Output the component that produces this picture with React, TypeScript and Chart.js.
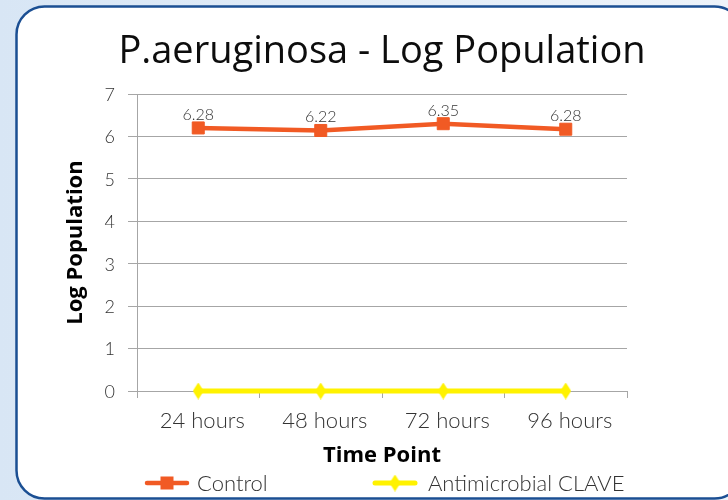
import React, { useEffect, useRef } from 'react';
import { Chart, registerables } from 'chart.js';

Chart.register(...registerables);

const chartTitle = 'P.aeruginosa - Log Population';
const xAxisTitle = 'Time Point';
const yAxisTitle = 'Log Population';
const categories = ['24 hours', '48 hours', '72 hours', '96 hours'];
const seriesNames = ['Control', 'Antimicrobial CLAVE'];
const controlValues = [6.2, 6.14, 6.3, 6.17];
const controlLabels = ['6.28', '6.22', '6.35', '6.28'];
const claveValues = [0, 0, 0, 0];
const yMin = 0;
const yMax = 7;
const yStep = 1;

const ORANGE = '#F15A24';
const YELLOW = '#FFF200';
const GRID = '#A6A6A6';
const TEXT = '#333333';

function makeDiamond(w: number, h: number, color: string) {
  const c = document.createElement('canvas');
  c.width = w;
  c.height = h;
  const ctx = c.getContext('2d')!;
  ctx.fillStyle = color;
  ctx.beginPath();
  ctx.moveTo(w / 2, 0);
  ctx.lineTo(w, h / 2);
  ctx.lineTo(w / 2, h);
  ctx.lineTo(0, h / 2);
  ctx.closePath();
  ctx.fill();
  return c;
}

export default function App() {
  const ref = useRef<HTMLCanvasElement | null>(null);

  useEffect(() => {
    document.body.style.margin = '0';
    const canvas = ref.current;
    if (!canvas) return;
    const diamond = makeDiamond(11, 17, YELLOW);

    const framePlugin = {
      id: 'frame',
      beforeDraw(chart: any) {
        const { ctx, width, height } = chart;
        ctx.save();
        const g = ctx.createLinearGradient(0, 0, width, 0);
        g.addColorStop(0, '#d8e6f5');
        g.addColorStop(1, '#edf3fa');
        ctx.fillStyle = g;
        ctx.fillRect(0, 0, width, height);
        ctx.beginPath();
        ctx.roundRect(16.5, 6.5, 726, 492, 28);
        ctx.fillStyle = '#ffffff';
        ctx.fill();
        ctx.lineWidth = 2.5;
        ctx.strokeStyle = '#1b4f93';
        ctx.stroke();
        ctx.restore();
      },
    };

    const labelsPlugin = {
      id: 'valueLabels',
      afterDatasetsDraw(chart: any) {
        const { ctx } = chart;
        const meta = chart.getDatasetMeta(0);
        ctx.save();
        ctx.font = '300 16px Lato';
        ctx.fillStyle = TEXT;
        ctx.textAlign = 'center';
        ctx.textBaseline = 'alphabetic';
        meta.data.forEach((pt: any, i: number) => {
          ctx.fillText(controlLabels[i], pt.x, pt.y - 8);
        });
        ctx.restore();
      },
    };

    const titleLegendPlugin = {
      id: 'titleLegend',
      afterDraw(chart: any) {
        const { ctx, chartArea } = chart;
        ctx.save();
        ctx.font = "400 38px 'Open Sans'";
        ctx.fillStyle = '#0d0d0d';
        ctx.textAlign = 'center';
        ctx.textBaseline = 'alphabetic';
        ctx.fillText(chartTitle, (chartArea.left + chartArea.right) / 2, 63);

        const legendX = [147, 375];
        const legendY = 483;
        chart.data.datasets.forEach((ds: any, i: number) => {
          const x0 = legendX[i];
          ctx.strokeStyle = ds.borderColor;
          ctx.lineWidth = ds.borderWidth;
          ctx.lineCap = 'round';
          ctx.beginPath();
          ctx.moveTo(x0, legendY);
          ctx.lineTo(x0 + 40, legendY);
          ctx.stroke();
          const cx = x0 + 20;
          if (ds.pointStyle instanceof HTMLCanvasElement) {
            ctx.drawImage(ds.pointStyle, cx - ds.pointStyle.width / 2, legendY - ds.pointStyle.height / 2);
          } else {
            ctx.fillStyle = ds.pointBackgroundColor;
            ctx.fillRect(cx - 6.5, legendY - 6.5, 13, 13);
          }
          ctx.font = '300 22px Lato';
          ctx.fillStyle = TEXT;
          ctx.textAlign = 'left';
          ctx.textBaseline = 'alphabetic';
          ctx.fillText(ds.label, x0 + (i === 0 ? 50 : 53), 491);
        });
        ctx.restore();
      },
    };

    const chart = new Chart(canvas, {
      type: 'line',
      data: {
        labels: categories,
        datasets: [
          {
            label: seriesNames[0],
            data: controlValues,
            borderColor: ORANGE,
            backgroundColor: ORANGE,
            borderWidth: 4.5,
            pointStyle: 'rect',
            pointRadius: 8.5,
            pointBorderWidth: 1,
            pointBackgroundColor: ORANGE,
            pointBorderColor: ORANGE,
            tension: 0,
            clip: false,
          },
          {
            label: seriesNames[1],
            data: claveValues,
            borderColor: YELLOW,
            backgroundColor: YELLOW,
            borderWidth: 5,
            pointStyle: diamond as any,
            pointRadius: 8,
            pointBackgroundColor: YELLOW,
            pointBorderColor: YELLOW,
            tension: 0,
            clip: false,
          },
        ],
      },
      options: {
        responsive: false,
        animation: false,
        layout: { padding: { top: 94, bottom: 31, left: 63, right: 101 } },
        plugins: {
          legend: { display: false },
          title: { display: false },
          tooltip: { enabled: false },
        },
        scales: {
          x: {
            type: 'category',
            offset: true,
            grid: { offset: true, drawOnChartArea: false, drawTicks: true, tickLength: 7, color: GRID },
            border: { display: true, color: GRID },
            ticks: { font: { family: 'Lato', size: 22, weight: 300 as any }, color: TEXT, padding: 10, labelOffset: 4 },
            title: {
              display: true,
              text: xAxisTitle,
              font: { family: "'Open Sans'", size: 22, weight: 'bold' },
              color: '#000000',
              padding: 0,
            },
            afterFit: (s: any) => { s.height = 78; },
          },
          y: {
            min: yMin,
            max: yMax,
            ticks: {
              stepSize: yStep,
              font: { family: 'Lato', size: 18, weight: 300 as any },
              color: TEXT,
              padding: 13,
              labelOffset: 1,
            },
            grid: { color: GRID, tickLength: 9 },
            border: { display: true, color: GRID },
            title: {
              display: true,
              text: yAxisTitle,
              font: { family: "'Open Sans'", size: 22, weight: 'bold' },
              color: '#000000',
              padding: 0,
            },
            afterFit: (s: any) => { s.width = 74; },
          },
        },
      },
      plugins: [framePlugin, labelsPlugin, titleLegendPlugin],
    } as any);

    return () => chart.destroy();
  }, []);

  return (
    <div style={{ width: 728, height: 500 }}>
      <canvas ref={ref} width={728} height={500} style={{ display: 'block' }} />
    </div>
  );
}
